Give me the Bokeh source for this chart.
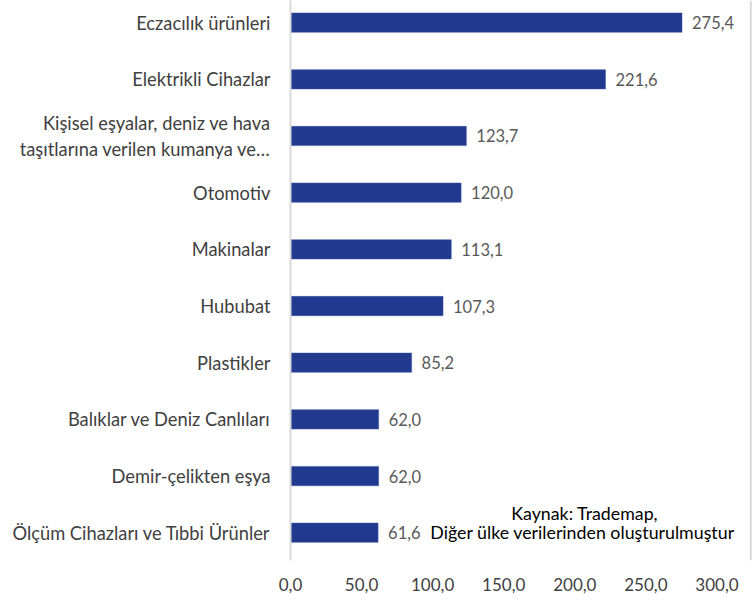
from bokeh.plotting import figure
from bokeh.models import Range1d, FixedTicker, Span, ColumnDataSource
from bokeh.core.properties import value
from bokeh.embed import file_html
from bokeh.resources import INLINE

categories = [
    "Eczacılık ürünleri",
    "Elektrikli Cihazlar",
    "Kişisel eşyalar, deniz ve hava\ntaşıtlarına verilen kumanya ve…",
    "Otomotiv",
    "Makinalar",
    "Hububat",
    "Plastikler",
    "Balıklar ve Deniz Canlıları",
    "Demir-çelikten eşya",
    "Ölçüm Cihazları ve Tıbbi Ürünler",
]
values = [275.4, 221.6, 123.7, 120.0, 113.1, 107.3, 85.2, 62.0, 62.0, 61.6]
x_ticks = [0, 50, 100, 150, 200, 250, 300]
source_lines = ["Kaynak: Trademap,", "Diğer ülke verilerinden oluşturulmuştur"]

FONT = "Lato"
n = len(categories)
positions = [n - 1 - i for i in range(n)]
labels = [f"{v:.1f}".replace(".", ",") for v in values]

src = ColumnDataSource(dict(y=positions, v=values, lab=labels))

p = figure(
    width=752, height=594,
    x_range=Range1d(0, 325), y_range=Range1d(-0.49, 9.39),
    output_backend="svg", toolbar_location=None,
    min_border_left=290, min_border_right=0, min_border_top=0, min_border_bottom=34,
)
p.outline_line_color = None
p.xgrid.grid_line_color = None
p.ygrid.grid_line_color = None

p.hbar(y="y", right="v", left=0, height=0.34, source=src,
       fill_color="#213A8F", line_color="#3a52a0", line_width=0.5)

p.text(x="v", y="y", text="lab", source=src, x_offset=10,
       text_baseline="middle", text_align="left",
       text_font=value(FONT), text_font_size="16.5px", text_color="#595959")

# y axis
p.yaxis.ticker = FixedTicker(ticks=positions)
p.yaxis.major_label_overrides = {pos: cat for pos, cat in zip(positions, categories)}
p.yaxis.axis_line_color = "#d9d9d9"
p.yaxis.axis_line_width = 2
p.yaxis.major_tick_line_color = None
p.yaxis.minor_tick_line_color = None
p.yaxis.major_label_standoff = 14
p.yaxis.major_label_text_font = FONT
p.yaxis.major_label_text_font_size = "18.3px"
p.yaxis.major_label_text_color = "#404040"

# x axis
p.xaxis.ticker = FixedTicker(ticks=x_ticks)
p.xaxis.major_label_overrides = {t: f"{t:.1f}".replace(".", ",") for t in x_ticks}
p.xaxis.axis_line_color = None
p.xaxis.major_tick_line_color = None
p.xaxis.minor_tick_line_color = None
p.xaxis.major_label_standoff = 11
p.xaxis.major_label_text_font = FONT
p.xaxis.major_label_text_font_size = "17px"
p.xaxis.major_label_text_color = "#404040"

p.add_layout(Span(location=323.8, dimension="height", line_color="#d9d9d9", line_width=2))

p.text(x=[207.0, 205.5], y=[0.35, 0.02], text=source_lines,
       text_align="center", text_baseline="middle",
       text_font=value(FONT), text_font_size="17.8px", text_color="#000000")

open("out.html", "w").write(file_html(p, INLINE))
